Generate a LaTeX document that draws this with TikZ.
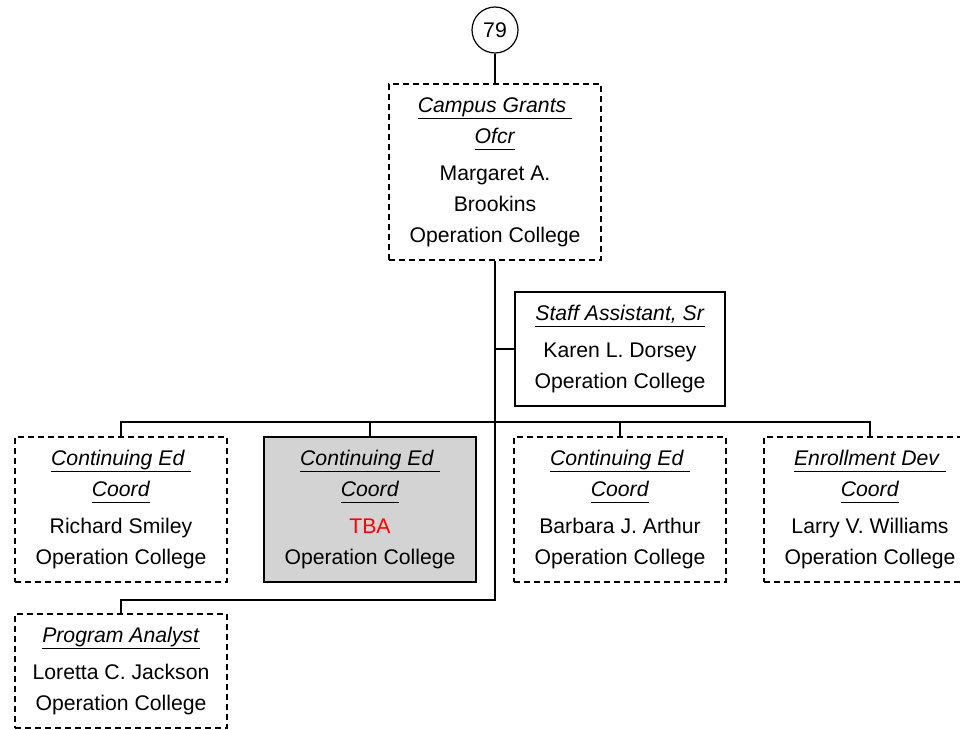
\documentclass[tikz,border=0pt]{standalone}
\usepackage{fontspec}
\setmainfont{Liberation Sans}
\newcommand{\ttl}[1]{\underline{\textit{#1}\vphantom{gp}}}
\begin{document}
\begin{tikzpicture}[x=1pt,y=-1pt,
  every node/.style={font=\fontsize{21.2}{31}\selectfont},
  box/.style={draw, line width=1.2pt, align=center, minimum width=212pt, inner sep=0pt},
  dbox/.style={box, dash pattern=on 6pt off 4pt},
  sbox/.style={box},
  conn/.style={line width=1.2pt}]
\useasboundingbox (0,0) rectangle (960,730);
\clip (0,0) rectangle (960,730);
\node[draw, circle, line width=1.2pt, minimum size=46pt, inner sep=0pt] (c79) at (495,30) {79};
\node[dbox, minimum height=176pt] (top) at (495,172) {\ttl{Campus Grants\ }\\\ttl{Ofcr}\\[6pt]Margaret A.\\Brookins\\Operation College};
\node[sbox, minimum width=210pt, minimum height=114pt] (staff) at (620,349) {\ttl{Staff Assistant, Sr}\\[6pt]Karen L. Dorsey\\Operation College};
\node[dbox, minimum height=145pt] (r1) at (121,509.5) {\ttl{Continuing Ed\ }\\\ttl{Coord}\\[6pt]Richard Smiley\\Operation College};
\node[sbox, fill={rgb,255:red,211;green,211;blue,211}, minimum height=145pt] (r2) at (370,509.5) {\ttl{Continuing Ed\ }\\\ttl{Coord}\\[6pt]\textcolor{red}{TBA}\\Operation College};
\node[dbox, minimum height=145pt] (r3) at (620,509.5) {\ttl{Continuing Ed\ }\\\ttl{Coord}\\[6pt]Barbara J. Arthur\\Operation College};
\node[dbox, minimum height=145pt] (r4) at (870,509.5) {\ttl{Enrollment Dev\ }\\\ttl{Coord}\\[6pt]Larry V. Williams\\Operation College};
\node[dbox, minimum height=114pt] (pa) at (121,671) {\ttl{Program Analyst}\\[6pt]Loretta C. Jackson\\Operation College};
\coordinate (bus) at (495,422);
\coordinate (j) at (495,600);
\draw[conn] (c79.south) -- (top.north);
\draw[conn] (top.south) -- (j) -| (pa.north);
\draw[conn] (staff.west) -- (staff.west -| top.south);
\draw[conn] (r1.north) |- (r4.north |- bus) -- (r4.north);
\draw[conn] (r2.north) -- (r2.north |- bus);
\draw[conn] (r3.north) -- (r3.north |- bus);
\end{tikzpicture}
\end{document}
